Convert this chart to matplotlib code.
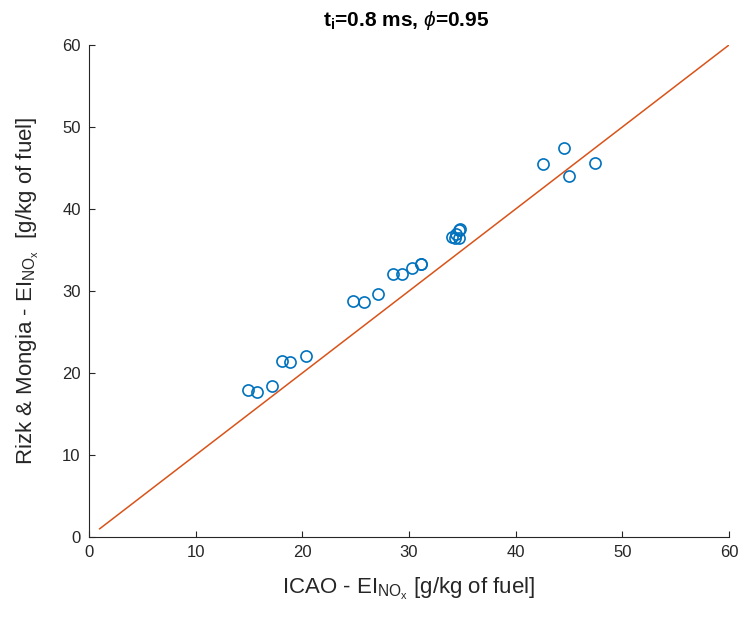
import numpy as np
import matplotlib.pyplot as plt

plt.rcParams['font.family'] = ['Liberation Sans', 'DejaVu Sans']
plt.rcParams['mathtext.fontset'] = 'custom'
plt.rcParams['mathtext.rm'] = 'Liberation Sans'
plt.rcParams['mathtext.it'] = 'Liberation Sans:italic'
plt.rcParams['mathtext.bf'] = 'Liberation Sans:bold'

# EI_NOx values: ICAO databank vs. Rizk & Mongia correlation
ei_icao = [14.93, 15.72, 17.18, 18.07, 18.84, 20.34,
           24.78, 25.78, 27.12, 28.53, 29.37, 30.31, 31.12, 31.08,
           34.03, 34.31, 34.45, 34.69, 34.78, 34.69,
           42.59, 44.56, 45.00, 47.44]
ei_rizk = [17.93, 17.72, 18.41, 21.46, 21.30, 22.07,
           28.82, 28.62, 29.63, 32.07, 32.07, 32.84, 33.29, 33.35,
           36.60, 36.46, 36.95, 36.52, 37.56, 37.44,
           45.45, 47.40, 44.02, 45.61]
parity = [1, 60]
ticks = [0, 10, 20, 30, 40, 50, 60]

fig = plt.figure(figsize=(7.4, 6.19), dpi=100)
ax = fig.add_axes([0.1203, 0.1325, 0.8648, 0.7948])

ax.plot(ei_icao, ei_rizk, 'o', mfc='none', mec='#0072BD', ms=8, mew=1.2)
ax.plot(parity, parity, '-', color='#D95319', lw=1.1)

ax.set_xlim(0, 60)
ax.set_ylim(0, 60)
ax.set_xticks(ticks)
ax.set_yticks(ticks)
ax.tick_params(direction='in', length=4, width=0.8, colors='#262626',
               labelsize=12, pad=6)
for side in ['top', 'right']:
    ax.spines[side].set_visible(False)
for side in ['left', 'bottom']:
    ax.spines[side].set_color('#262626')
    ax.spines[side].set_linewidth(0.8)

ax.set_xlabel(r'ICAO - EI$_{\mathregular{NO_x}}$ [g/kg of fuel]',
              fontsize=16, color='#262626', labelpad=11)
ax.set_ylabel(r'Rizk & Mongia - EI$_{\mathregular{NO_x}}$  [g/kg of fuel]',
              fontsize=16, color='#262626', labelpad=15)
ax.set_title(r'$\mathbf{t_i}$=0.8 ms, $\phi$=0.95', fontsize=15,
             fontweight='bold', x=0.495, pad=14)

fig.savefig('out.png', dpi=100)
